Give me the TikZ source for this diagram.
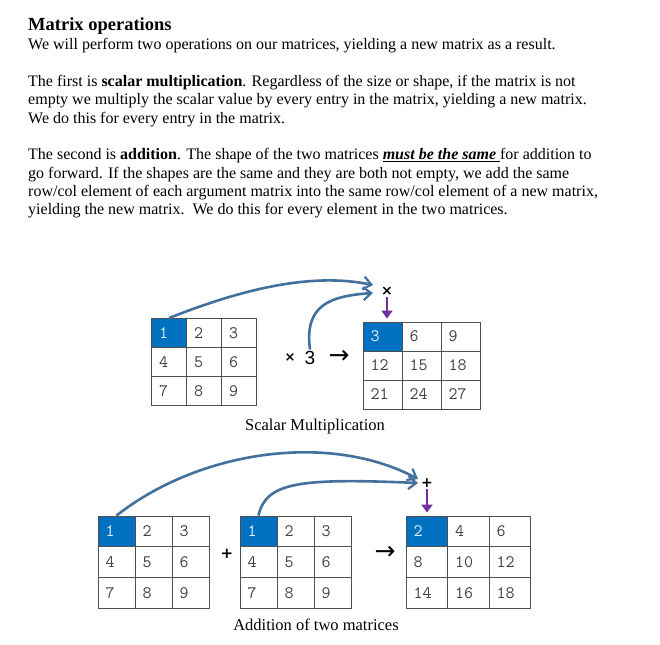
\documentclass[tikz,border=0pt]{standalone}
\usepackage{fontspec}
\setmainfont{Liberation Serif}
\newfontfamily\opfont{DejaVu Sans}
\newfontfamily\numfont{Liberation Sans}
\usetikzlibrary{arrows.meta, calc}

\definecolor{cellblue}{RGB}{0,112,192}
\definecolor{curveblue}{RGB}{65,113,156}
\definecolor{purp}{RGB}{112,48,160}
\definecolor{gridc}{RGB}{80,80,80}
\definecolor{numc}{RGB}{64,64,64}

\tikzset{
  cell/.style={draw=gridc, line width=0.9pt, inner xsep=7.5pt, inner ysep=0pt,
    align=left, text=numc, font=\ttfamily\fontsize{17.5}{18}\selectfont},
  hl0/.style={fill=cellblue, text=white!90!cellblue},
  para/.style={anchor=base west, inner sep=0pt, font=\fontsize{16}{18}\selectfont},
  caption/.style={anchor=base, inner sep=0pt, font=\fontsize{16.5}{18}\selectfont},
  op/.style={inner sep=1pt, font=\opfont\fontsize{25}{25}\selectfont},
  curve/.style={curveblue, line width=2.6pt, -{Straight Barb[length=8pt, width=13pt, line width=2.2pt]}},
  down/.style={purp, line width=2.6pt, -{Triangle[length=8pt, width=11pt]}}
}

% name, left x, top y, cell width, cell height, entries
\newcommand\putmat[6]{%
  \pgfmathsetmacro\tw{#4-15}
  \foreach \v [count=\k from 0] in {#6} {
    \pgfmathtruncatemacro\rr{div(\k,3)}
    \pgfmathtruncatemacro\cc{mod(\k,3)}
    \node[cell, minimum width=#4, minimum height=#5, text width=\tw pt, hl\k/.try]
      (#1-\rr-\cc) at ({#2+(\cc+0.5)*#4},{#3+(\rr+0.5)*#5}) {\v};
  }}

\begin{document}
\begin{tikzpicture}[x=1pt, y=-1pt]
  \useasboundingbox[fill=white] (0,0) rectangle (660,644);

  % text
  \node[para, font=\bfseries\fontsize{18.5}{20}\selectfont] (title) at (28,31) {Matrix operations};
  \node[para] (l1) at (28,49.5) {We will perform two operations on our matrices, yielding a new matrix as a result.};
  \node[para] (l2) at (28,86.5) {The first is \textbf{scalar multiplication}. Regardless of the size or shape, if the matrix is not};
  \node[para] (l3) at (28,104.8) {empty we multiply the scalar value by every entry in the matrix, yielding a new matrix.};
  \node[para] (l4) at (28,123.1) {We do this for every entry in the matrix.};
  \node[para] (l5) at (28,160) {The second is \textbf{addition}. The shape of the two matrices \underline{\textbf{\textit{must be the same}}\ }for addition to};
  \node[para] (l6) at (28,178.3) {go forward. If the shapes are the same and they are both not empty, we add the same};
  \node[para] (l7) at (28,196.6) {row/col element of each argument matrix into the same row/col element of a new matrix,};
  \node[para] (l8) at (28,214.9) {yielding the new matrix.\ \ We do this for every element in the two matrices.};

  % scalar multiplication
  \putmat{sa}{151.5}{318.5}{35}{29}{1,2,3,4,5,6,7,8,9}
  \putmat{sr}{363}{322}{39}{29}{3,6,9,12,15,18,21,24,27}
  \node[op, font=\opfont\bfseries\fontsize{13}{13}\selectfont] (times) at (290,358) {×};
  \node[op, font=\numfont\fontsize{19}{19}\selectfont] (three) at (310,357.5) {3};
  \node[op] (to1) at (339,356.5) {→};
  \node[op, font=\opfont\bfseries\fontsize{14}{14}\selectfont] (smul) at (387,291.5) {×};
  \coordinate (tipA) at (373,285);
  \coordinate (tipB) at (373,293);
  \draw[curve] (sa-0-0.north) .. controls (240,290) and (310,272) .. (tipA);
  \draw[curve] (three.north) .. controls (304,305) and (330,296) .. (tipB);
  \draw[down] (smul.south) -- ($(smul.south |- sr-0-0.north)+(0,-3)$);
  \node[caption] (cap1) at (315,430) {Scalar Multiplication};

  % addition
  \putmat{aa}{98}{516}{37}{30.7}{1,2,3,4,5,6,7,8,9}
  \putmat{ab}{240}{516}{37}{30.7}{1,2,3,4,5,6,7,8,9}
  \putmat{ar}{406}{516}{41.5}{30.7}{2,4,6,8,10,12,14,16,18}
  \node[op, font=\opfont\bfseries\fontsize{15}{15}\selectfont] (plus) at (227,554) {+};
  \node[op] (to2) at (385,553) {→};
  \node[op, font=\opfont\bfseries\fontsize{14}{14}\selectfont] (sadd) at (427,483) {+};
  \coordinate (tipC) at (418,479);
  \coordinate (tipD) at (418,483);
  \draw[curve] (aa-0-0.north) .. controls (200,450) and (330,432) .. (tipC);
  \draw[curve] (ab-0-0.north) .. controls (266,482) and (300,478) .. (tipD);
  \draw[down] (sadd.south) -- ($(sadd.south |- ar-0-0.north)+(0,-3)$);
  \node[caption] (cap2) at (316,630) {Addition of two matrices};
\end{tikzpicture}
\end{document}
